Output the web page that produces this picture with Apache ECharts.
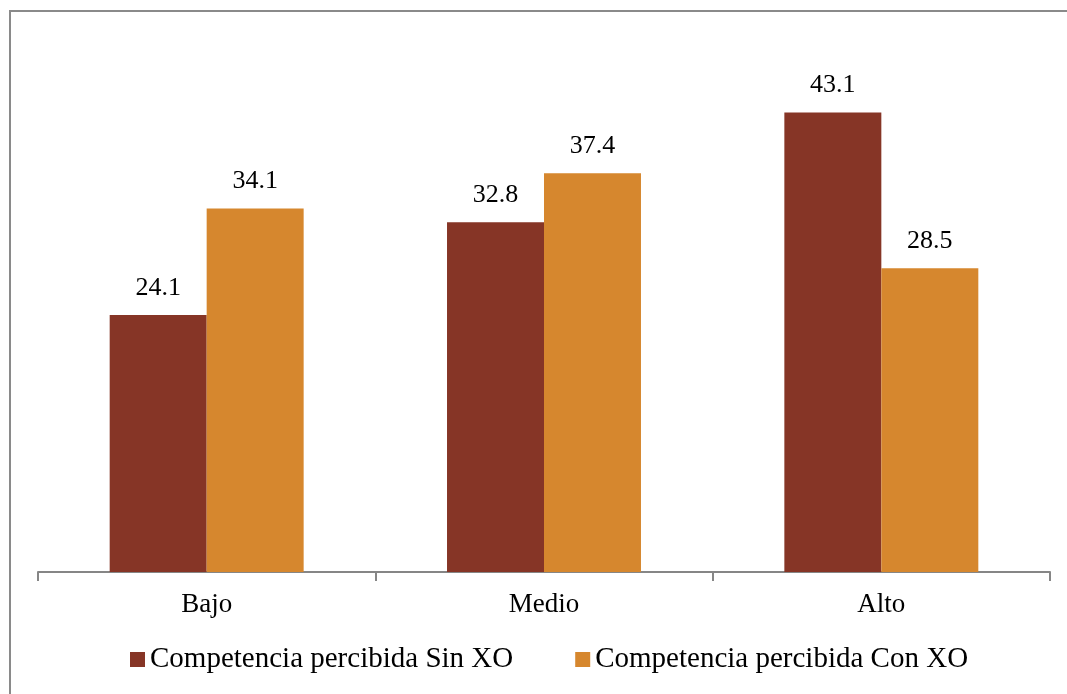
<!DOCTYPE html>
<html>
<head>
<meta charset="utf-8">
<script src="https://cdn.jsdelivr.net/npm/echarts@6/dist/echarts.min.js"></script>
<style>
  html, body { margin: 0; padding: 0; background: #fff; }
  #chart { width: 1067px; height: 694px; }
</style>
</head>
<body>
<div id="chart"></div>
<script>
// Niveles de competencia y porcentajes por grupo
const categories = ['Bajo', 'Medio', 'Alto'];
const sinXO = [24.1, 32.8, 43.1];
const conXO = [34.1, 37.4, 28.5];
const seriesNames = ['Competencia percibida Sin XO', 'Competencia percibida Con XO'];

const FONT = 'Liberation Serif';

const chart = echarts.init(document.getElementById('chart'));

chart.setOption({
  animation: false,
  backgroundColor: '#ffffff',
  graphic: [{
    type: 'rect',
    shape: { x: 10, y: 11, width: 1200, height: 900 },
    style: { fill: 'none', stroke: '#8a8a8a', lineWidth: 2 },
    silent: true
  }],
  legend: {
    bottom: 15,
    left: 125,
    itemWidth: 15,
    itemHeight: 15,
    itemGap: 62,
    icon: 'rect',
    textStyle: { fontFamily: FONT, fontSize: 29, color: '#000' },
    data: seriesNames
  },
  grid: { left: 38, right: 17, top: 39, bottom: 122, containLabel: false },
  xAxis: {
    type: 'category',
    data: categories,
    axisLine: { lineStyle: { color: '#868686', width: 2 } },
    axisTick: { show: true, length: 9, lineStyle: { color: '#868686', width: 2 } },
    axisLabel: { fontFamily: FONT, fontSize: 27, color: '#000', margin: 19 }
  },
  yAxis: {
    type: 'value',
    min: 0,
    max: 50,
    show: false,
    splitLine: { show: false }
  },
  series: [
    {
      name: seriesNames[0],
      type: 'bar',
      data: sinXO,
      barGap: '0%',
      barCategoryGap: '42.5%',
      itemStyle: { color: '#863526' },
      label: { show: true, position: 'top', distance: 14, fontFamily: FONT, fontSize: 26, color: '#000', formatter: p => p.value.toFixed(1) }
    },
    {
      name: seriesNames[1],
      type: 'bar',
      data: conXO,
      barGap: '0%',
      barCategoryGap: '42.5%',
      itemStyle: { color: '#D6872E' },
      label: { show: true, position: 'top', distance: 14, fontFamily: FONT, fontSize: 26, color: '#000', formatter: p => p.value.toFixed(1) }
    }
  ]
});
</script>
</body>
</html>
